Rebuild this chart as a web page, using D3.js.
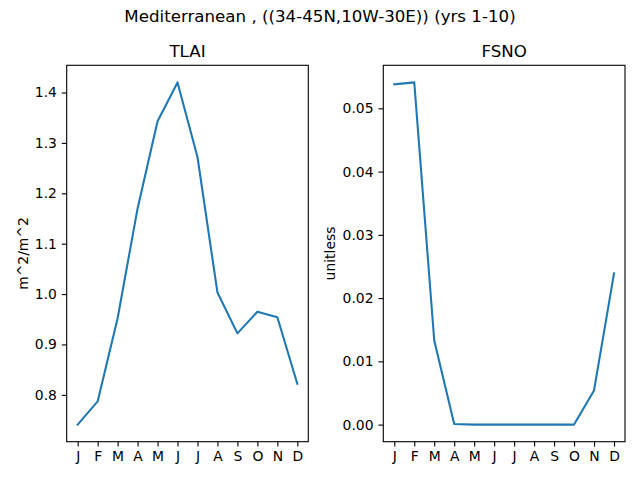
<!DOCTYPE html>
<html>
<head>
<meta charset="utf-8">
<script src="https://cdn.jsdelivr.net/npm/d3@7"></script>
<style>
  body { margin: 0; background: #fff; }
  text { font-family: "DejaVu Sans", sans-serif; fill: #000; }
</style>
</head>
<body>
<div id="chart"></div>
<script>
const width = 640;
const height = 480;

const months = ["J", "F", "M", "A", "M", "J", "J", "A", "S", "O", "N", "D"];
const tlai = [0.741, 0.787, 0.952, 1.170, 1.343, 1.420, 1.272, 1.003, 0.922, 0.965, 0.954, 0.822];
const fsno = [0.0538, 0.0541, 0.0133, 0.0001, 0.0, 0.0, 0.0, 0.0, 0.0, 0.0, 0.0054, 0.0239];
const tlaiTicks = [0.8, 0.9, 1.0, 1.1, 1.2, 1.3, 1.4];
const fsnoTicks = [0.00, 0.01, 0.02, 0.03, 0.04, 0.05];

const suptitle = "Mediterranean , ((34-45N,10W-30E)) (yrs 1-10)";

const panels = [
  { title: "TLAI", ylabel: "m^2/m^2", values: tlai, ticks: tlaiTicks, fmt: d3.format(".1f"),
    left: 66.7, right: 308.3, labelX: 23 },
  { title: "FSNO", ylabel: "unitless", values: fsno, ticks: fsnoTicks, fmt: d3.format(".2f"),
    left: 383.3, right: 625, labelX: 330 }
];
const plotTop = 65.3, plotBottom = 441.7;

const svg = d3.select("#chart")
    .append("svg")
    .attr("width", width)
    .attr("height", height);

svg.append("text")
    .attr("x", 320).attr("y", 22)
    .attr("text-anchor", "middle")
    .attr("font-size", "16.67px")
    .text(suptitle);

panels.forEach(p => {
    // matplotlib style 5% margins
    const x = d3.scaleLinear()
        .domain([-0.55, months.length - 1 + 0.55])
        .range([p.left, p.right]);
    const [lo, hi] = d3.extent(p.values);
    const pad = (hi - lo) * 0.05;
    const y = d3.scaleLinear()
        .domain([lo - pad, hi + pad])
        .range([plotBottom, plotTop]);

    const g = svg.append("g");

    const xAxis = g.append("g")
        .attr("transform", `translate(0,${plotBottom})`)
        .call(d3.axisBottom(x)
            .tickValues(d3.range(months.length))
            .tickFormat(i => months[i])
            .tickSize(4.9)
            .tickPadding(4.9));

    const yAxis = g.append("g")
        .attr("transform", `translate(${p.left},0)`)
        .call(d3.axisLeft(y)
            .tickValues(p.ticks)
            .tickFormat(p.fmt)
            .tickSize(4.9)
            .tickPadding(4.9));

    [xAxis, yAxis].forEach(a => {
        a.select(".domain").remove();
        a.selectAll("line").attr("stroke", "#000").attr("stroke-width", 1.1);
        a.selectAll("text")
            .attr("font-size", "13.9px")
            .attr("font-family", "DejaVu Sans, sans-serif")
            .attr("fill", "#000");
    });

    g.append("path")
        .datum(p.values)
        .attr("fill", "none")
        .attr("stroke", "#1f77b4")
        .attr("stroke-width", 2.08)
        .attr("stroke-linejoin", "round")
        .attr("stroke-linecap", "square")
        .attr("d", d3.line()
            .x((d, i) => x(i))
            .y(d => y(d)));

    g.append("rect")
        .attr("x", p.left).attr("y", plotTop)
        .attr("width", p.right - p.left)
        .attr("height", plotBottom - plotTop)
        .attr("fill", "none")
        .attr("stroke", "#000")
        .attr("stroke-width", 1.1);

    g.append("text")
        .attr("x", (p.left + p.right) / 2)
        .attr("y", plotTop - 8.3)
        .attr("text-anchor", "middle")
        .attr("font-size", "16.67px")
        .text(p.title);

    g.append("text")
        .attr("transform", `translate(${p.labelX},${(plotTop + plotBottom) / 2}) rotate(-90)`)
        .attr("text-anchor", "middle")
        .attr("dy", "0.35em")
        .attr("font-size", "13.9px")
        .text(p.ylabel);
});
</script>
</body>
</html>
